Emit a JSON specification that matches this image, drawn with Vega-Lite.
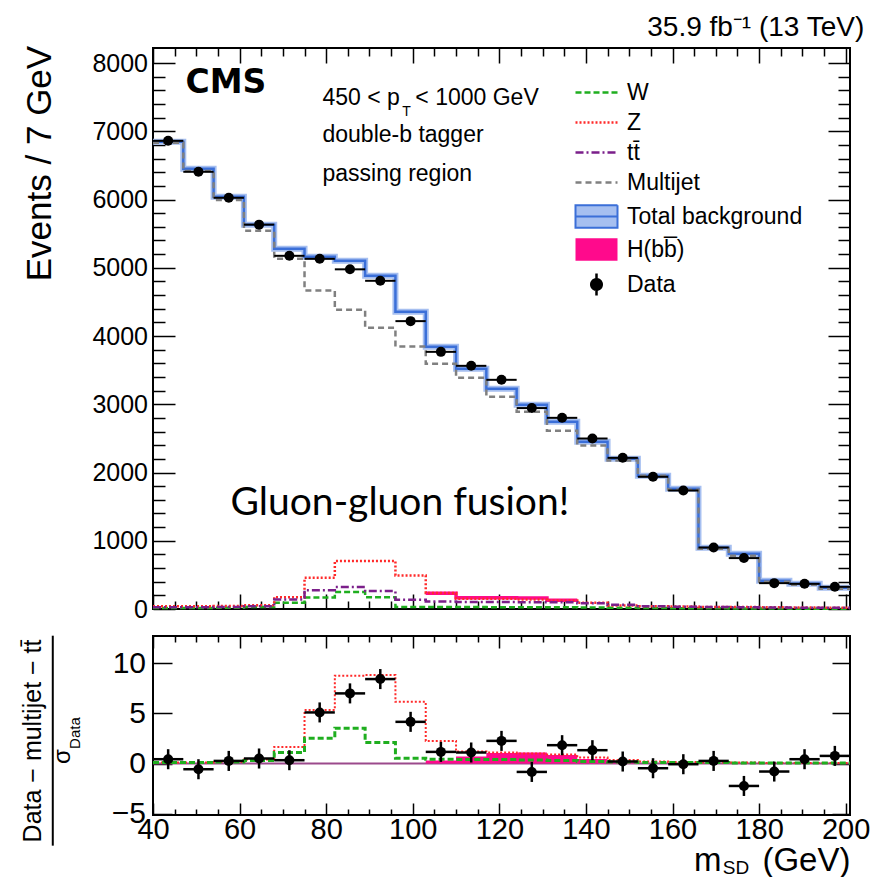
{
  "$schema": "https://vega.github.io/schema/vega-lite/v6.json",
  "background": "white",
  "padding": {"left": 20, "top": 12, "right": 5, "bottom": 6},
  "spacing": 27,
  "bounds": "flush",
  "config": {
    "view": {"stroke": "black", "strokeWidth": 2},
    "font": "Liberation Sans",
    "axis": {"domain": false, "grid": false, "tickColor": "black", "tickWidth": 1.5, "labelColor": "black", "labelFont": "Liberation Sans", "labelOverlap": false, "labelFlush": false, "labelBound": false}
  },
  "datasets": {
    "bins": [
      {"lo":40,"hi":47,"m":43.5,"d":6860,"tot":6845,"Multijet":6830,"W":15,"Z":42,"tt̄":25,"H":null,"r":0.43,"rlo":-0.57,"rhi":1.43,"rW":0.1,"rZ":0.1,"rH":0},
      {"lo":47,"hi":54,"m":50.5,"d":6406,"tot":6450,"Multijet":6418,"W":15,"Z":42,"tt̄":25,"H":null,"r":-0.57,"rlo":-1.57,"rhi":0.43,"rW":0.1,"rZ":0.1,"rH":0},
      {"lo":54,"hi":61,"m":57.5,"d":6025,"tot":6040,"Multijet":5993,"W":18,"Z":44,"tt̄":28,"H":null,"r":0.26,"rlo":-0.74,"rhi":1.26,"rW":0.15,"rZ":0.15,"rH":0},
      {"lo":61,"hi":68,"m":64.5,"d":5632,"tot":5629,"Multijet":5543,"W":28,"Z":55,"tt̄":42,"H":null,"r":0.5,"rlo":-0.5,"rhi":1.5,"rW":0.3,"rZ":0.4,"rH":0},
      {"lo":68,"hi":75,"m":71.5,"d":5175,"tot":5278,"Multijet":5131,"W":90,"Z":174,"tt̄":139,"H":null,"r":0.33,"rlo":-0.67,"rhi":1.33,"rW":1.1,"rZ":1.66,"rH":0},
      {"lo":75,"hi":82,"m":78.5,"d":5131,"tot":5161,"Multijet":4667,"W":170,"Z":457,"tt̄":276,"H":null,"r":5.1,"rlo":4.1,"rhi":6.1,"rW":2.53,"rZ":5.33,"rH":0},
      {"lo":82,"hi":89,"m":85.5,"d":4977,"tot":5102,"Multijet":4384,"W":248,"Z":702,"tt̄":321,"H":null,"r":7.0,"rlo":6.0,"rhi":8.0,"rW":3.53,"rZ":8.76,"rH":0},
      {"lo":89,"hi":96,"m":92.5,"d":4809,"tot":4882,"Multijet":4120,"W":174,"Z":702,"tt̄":262,"H":null,"r":8.43,"rlo":7.43,"rhi":9.43,"rW":2.1,"rZ":8.83,"rH":0},
      {"lo":96,"hi":103,"m":99.5,"d":4218,"tot":4355,"Multijet":3846,"W":30,"Z":491,"tt̄":135,"H":null,"r":4.16,"rlo":3.16,"rhi":5.16,"rW":0.53,"rZ":6.16,"rH":0},
      {"lo":103,"hi":110,"m":106.5,"d":3768,"tot":3842,"Multijet":3593,"W":28,"Z":233,"tt̄":110,"H":230,"r":1.16,"rlo":0.16,"rhi":2.16,"rW":0.43,"rZ":2.26,"rH":0.3},
      {"lo":110,"hi":117,"m":113.5,"d":3563,"tot":3520,"Multijet":3388,"W":28,"Z":150,"tt̄":101,"H":165,"r":1.1,"rlo":0.1,"rhi":2.1,"rW":0.4,"rZ":1.2,"rH":0.7},
      {"lo":117,"hi":124,"m":120.5,"d":3358,"tot":3227,"Multijet":3110,"W":27,"Z":150,"tt̄":101,"H":165,"r":2.26,"rlo":1.26,"rhi":3.26,"rW":0.4,"rZ":1.1,"rH":1.05},
      {"lo":124,"hi":131,"m":127.5,"d":2944,"tot":2992,"Multijet":2889,"W":26,"Z":140,"tt̄":100,"H":160,"r":-0.84,"rlo":-1.84,"rhi":0.16,"rW":0.35,"rZ":1.0,"rH":1.1},
      {"lo":131,"hi":138,"m":134.5,"d":2801,"tot":2743,"Multijet":2610,"W":25,"Z":125,"tt̄":98,"H":128,"r":1.83,"rlo":0.83,"rhi":2.83,"rW":0.3,"rZ":0.9,"rH":0.85},
      {"lo":138,"hi":145,"m":141.5,"d":2498,"tot":2450,"Multijet":2395,"W":22,"Z":91,"tt̄":86,"H":null,"r":1.33,"rlo":0.33,"rhi":2.33,"rW":0.2,"rZ":0.6,"rH":0.45},
      {"lo":145,"hi":152,"m":148.5,"d":2215,"tot":2201,"Multijet":2175,"W":20,"Z":51,"tt̄":62,"H":null,"r":0.2,"rlo":-0.8,"rhi":1.2,"rW":0.15,"rZ":0.35,"rH":0.1},
      {"lo":152,"hi":159,"m":155.5,"d":1937,"tot":1952,"Multijet":1952,"W":15,"Z":40,"tt̄":40,"H":null,"r":-0.47,"rlo":-1.47,"rhi":0.53,"rW":0.1,"rZ":0.2,"rH":0},
      {"lo":159,"hi":166,"m":162.5,"d":1736,"tot":1761,"Multijet":1747,"W":12,"Z":35,"tt̄":32,"H":null,"r":-0.07,"rlo":-1.07,"rhi":0.93,"rW":0.1,"rZ":0.15,"rH":0},
      {"lo":166,"hi":173,"m":169.5,"d":901,"tot":897,"Multijet":882,"W":10,"Z":30,"tt̄":28,"H":null,"r":0.26,"rlo":-0.74,"rhi":1.26,"rW":0.1,"rZ":0.1,"rH":0},
      {"lo":173,"hi":180,"m":176.5,"d":746,"tot":809,"Multijet":779,"W":8,"Z":28,"tt̄":25,"H":null,"r":-2.24,"rlo":-3.24,"rhi":-1.24,"rW":0.05,"rZ":0.1,"rH":0},
      {"lo":180,"hi":187,"m":183.5,"d":379,"tot":413,"Multijet":398,"W":6,"Z":25,"tt̄":22,"H":null,"r":-0.8,"rlo":-1.8,"rhi":0.2,"rW":0.05,"rZ":0.05,"rH":0},
      {"lo":187,"hi":194,"m":190.5,"d":369,"tot":369,"Multijet":354,"W":5,"Z":22,"tt̄":20,"H":null,"r":0.43,"rlo":-0.57,"rhi":1.43,"rW":0.05,"rZ":0.05,"rH":0},
      {"lo":194,"hi":201,"m":197.5,"d":325,"tot":311,"Multijet":296,"W":5,"Z":20,"tt̄":18,"H":null,"r":0.76,"rlo":-0.24,"rhi":1.76,"rW":0.05,"rZ":0.05,"rH":0}
    ]
  },
  "vconcat": [
    {
      "width": 697,
      "height": 561,
      "resolve": {"axis": {"x": "independent", "y": "independent"}},
      "layer": [
        {
          "data": {"name": "bins"},
          "transform": [{"filter": "datum.H != null"}, {"fold": ["lo", "hi"], "as": ["edge", "x"]}],
          "mark": {"type": "line", "color": "#ff0a8c", "strokeWidth": 3.5},
          "encoding": {
            "x": {"field": "x", "type": "quantitative", "scale": {"domain": [40, 201], "nice": false, "zero": false},
                  "axis": {"orient": "bottom", "title": null, "labels": false, "tickSize": -8, "values": [45,50,55,65,70,75,85,90,95,105,110,115,125,130,135,145,150,155,165,170,175,185,190,195]}},
            "y": {"field": "H", "type": "quantitative", "scale": {"domain": [0, 8220], "nice": false, "zero": false},
                  "axis": {"orient": "left", "title": null, "labels": false, "tickSize": -12, "values": [200,400,600,800,1200,1400,1600,1800,2200,2400,2600,2800,3200,3400,3600,3800,4200,4400,4600,4800,5200,5400,5600,5800,6200,6400,6600,6800,7200,7400,7600,7800]}},
            "order": [{"field": "lo", "type": "quantitative"}, {"field": "x", "type": "quantitative"}]
          }
        },
        {
          "data": {"name": "bins"},
          "transform": [{"fold": ["lo", "hi"], "as": ["edge", "x"]}],
          "mark": {"type": "line", "color": "#a6bff0", "strokeWidth": 6},
          "encoding": {
            "x": {"field": "x", "type": "quantitative", "axis": null},
            "y": {"field": "tot", "type": "quantitative", "axis": null},
            "order": [{"field": "lo", "type": "quantitative"}, {"field": "x", "type": "quantitative"}]
          }
        },
        {
          "data": {"name": "bins"},
          "transform": [{"fold": ["lo", "hi"], "as": ["edge", "x"]}],
          "mark": {"type": "line", "color": "#3b6fd8", "strokeWidth": 2.5},
          "encoding": {
            "x": {"field": "x", "type": "quantitative", "axis": null},
            "y": {"field": "tot", "type": "quantitative", "axis": null},
            "order": [{"field": "lo", "type": "quantitative"}, {"field": "x", "type": "quantitative"}]
          }
        },
        {
          "data": {"name": "bins"},
          "transform": [{"fold": ["W", "Z", "tt̄", "Multijet"], "as": ["key", "val"]}, {"fold": ["lo", "hi"], "as": ["edge", "x"]}],
          "mark": {"type": "line", "strokeWidth": 2.5},
          "encoding": {
            "x": {"field": "x", "type": "quantitative",
                  "axis": {"orient": "bottom", "title": null, "labels": false, "tickSize": -15, "values": [40,60,80,100,120,140,160,180,200]}},
            "y": {"field": "val", "type": "quantitative",
                  "axis": {"orient": "left", "title": null, "format": "d", "tickSize": -22, "labelPadding": 27.5, "labelFontSize": 25, "values": [0,1000,2000,3000,4000,5000,6000,7000,8000]}},
            "color": {"field": "key", "type": "nominal",
                      "scale": {"domain": ["W", "Z", "tt̄", "Multijet", "Total background", "H(bb̅)", "Data"],
                                "range": ["#1fae1f", "#ff2a2a", "#7b1f8a", "#808080", "#3b6fd8", "#ff0a8c", "#000000"]},
                      "legend": {
                        "orient": "none", "legendX": 432, "legendY": 33, "title": null, "padding": 0,
                        "labelFont": "Liberation Sans", "labelFontSize": 23, "labelColor": "black", "labelLimit": 400, "labelOffset": 19,
                        "symbolSize": 900, "rowPadding": 6, "symbolType": "M-1.4,0H1.4",
                        "encode": {"symbols": {"update": {
                          "shape": {"signal": "datum.value === 'Total background' ? 'M-1.4,-0.75H1.4V0.75H-1.4ZM-1.4,0H1.4' : datum.value === 'H(bb̅)' ? 'M-1.4,-0.75H1.4V0.75H-1.4Z' : datum.value === 'Data' ? 'M0,-0.73V0.73M-0.35,0A0.35,0.35,0,1,0,0.35,0A0.35,0.35,0,1,0,-0.35,0Z' : 'M-1.4,0H1.4'"},
                          "fill": {"signal": "datum.value === 'Total background' ? '#a6bff0' : datum.value === 'H(bb̅)' ? '#ff0a8c' : datum.value === 'Data' ? '#000000' : 'transparent'"},
                          "stroke": {"signal": "datum.value === 'W' ? '#1fae1f' : datum.value === 'Z' ? '#ff2a2a' : datum.value === 'tt̄' ? '#7b1f8a' : datum.value === 'Multijet' ? '#808080' : datum.value === 'Total background' ? '#3b6fd8' : datum.value === 'H(bb̅)' ? '#ff0a8c' : '#000000'"},
                          "strokeDash": {"signal": "datum.value === 'W' ? [6,3] : datum.value === 'Z' ? [2,2] : datum.value === 'tt̄' ? [8,3,2,3] : datum.value === 'Multijet' ? [6,4] : [1,0]"},
                          "strokeWidth": {"signal": "datum.value === 'Total background' ? 2 : datum.value === 'H(bb̅)' ? 0 : 2.5"},
                          "opacity": {"value": 1}
                        }}}
                      }},
            "strokeDash": {"field": "key", "type": "nominal", "legend": null,
                           "scale": {"domain": ["W", "Z", "tt̄", "Multijet"], "range": [[6,3],[2,2],[8,3,2,3],[6,4]]}},
            "order": [{"field": "lo", "type": "quantitative"}, {"field": "x", "type": "quantitative"}]
          }
        },
        {
          "data": {"name": "bins"},
          "mark": {"type": "rule", "color": "black", "strokeWidth": 2},
          "encoding": {
            "x": {"field": "lo", "type": "quantitative",
                  "axis": {"orient": "top", "title": null, "labels": false, "tickSize": -8, "values": [45,50,55,65,70,75,85,90,95,105,110,115,125,130,135,145,150,155,165,170,175,185,190,195]}},
            "x2": {"field": "hi"},
            "y": {"field": "d", "type": "quantitative",
                  "axis": {"orient": "right", "title": null, "labels": false, "tickSize": -12, "values": [200,400,600,800,1200,1400,1600,1800,2200,2400,2600,2800,3200,3400,3600,3800,4200,4400,4600,4800,5200,5400,5600,5800,6200,6400,6600,6800,7200,7400,7600,7800]}}
          }
        },
        {
          "data": {"name": "bins"},
          "mark": {"type": "point", "filled": true, "color": "black", "size": 100, "opacity": 1},
          "encoding": {
            "x": {"field": "m", "type": "quantitative",
                  "axis": {"orient": "top", "title": null, "labels": false, "tickSize": -15, "values": [40,60,80,100,120,140,160,180,200]}},
            "y": {"field": "d", "type": "quantitative",
                  "axis": {"orient": "right", "title": null, "labels": false, "tickSize": -22, "values": [0,1000,2000,3000,4000,5000,6000,7000,8000]}}
          }
        },
        {
          "data": {"values": [{}]},
          "mark": {"type": "text", "text": "35.9 fb⁻¹ (13 TeV)", "font": "Liberation Sans", "fontSize": 28, "align": "right", "baseline": "middle", "color": "black"},
          "encoding": {"x": {"datum": 204.3, "axis": null}, "y": {"datum": 8516, "axis": null}}
        },
        {
          "data": {"values": [{}]},
          "mark": {"type": "text", "text": "CMS", "font": "DejaVu Sans", "fontWeight": "bold", "fontSize": 33, "align": "left", "baseline": "middle", "color": "black"},
          "encoding": {"x": {"datum": 47.5, "axis": null}, "y": {"datum": 7703, "axis": null}}
        },
        {
          "data": {"values": [{}]},
          "mark": {"type": "text", "text": "450 < p", "font": "Liberation Sans", "fontSize": 23, "align": "left", "baseline": "middle", "color": "black"},
          "encoding": {"x": {"datum": 79.15, "axis": null}, "y": {"datum": 7483, "axis": null}}
        },
        {
          "data": {"values": [{}]},
          "mark": {"type": "text", "text": "T", "font": "Liberation Sans", "fontSize": 14, "align": "left", "baseline": "middle", "color": "black"},
          "encoding": {"x": {"datum": 97.6, "axis": null}, "y": {"datum": 7285, "axis": null}}
        },
        {
          "data": {"values": [{}]},
          "mark": {"type": "text", "text": "< 1000 GeV", "font": "Liberation Sans", "fontSize": 23, "align": "left", "baseline": "middle", "color": "black"},
          "encoding": {"x": {"datum": 100.6, "axis": null}, "y": {"datum": 7483, "axis": null}}
        },
        {
          "data": {"values": [{}]},
          "mark": {"type": "text", "text": "double-b tagger", "font": "Liberation Sans", "fontSize": 23, "align": "left", "baseline": "middle", "color": "black"},
          "encoding": {"x": {"datum": 79.15, "axis": null}, "y": {"datum": 6948, "axis": null}}
        },
        {
          "data": {"values": [{}]},
          "mark": {"type": "text", "text": "passing region", "font": "Liberation Sans", "fontSize": 23, "align": "left", "baseline": "middle", "color": "black"},
          "encoding": {"x": {"datum": 79.15, "axis": null}, "y": {"datum": 6376, "axis": null}}
        },
        {
          "data": {"values": [{}]},
          "mark": {"type": "text", "text": "Gluon-gluon fusion!", "font": "Lato", "fontSize": 39, "align": "left", "baseline": "middle", "color": "black"},
          "encoding": {"x": {"datum": 57.9, "axis": null}, "y": {"datum": 1556, "axis": null}}
        },
        {
          "data": {"values": [{}]},
          "mark": {"type": "text", "text": "Events / 7 GeV", "font": "Liberation Sans", "fontSize": 35, "angle": 270, "align": "right", "baseline": "middle", "color": "black"},
          "encoding": {"x": {"datum": 13.8, "axis": null}, "y": {"datum": 8252, "axis": null}}
        }
      ]
    },
    {
      "width": 697,
      "height": 179,
      "resolve": {"axis": {"x": "independent", "y": "independent"}},
      "layer": [
        {
          "data": {"values": [{}]},
          "mark": {"type": "rule", "color": "#9b4a8c", "strokeWidth": 2},
          "encoding": {"y": {"datum": 0, "axis": null, "scale": {"domain": [-5.14, 12.73], "nice": false, "zero": false}}}
        },
        {
          "data": {"name": "bins"},
          "transform": [{"filter": "datum.rH > 0"}, {"fold": ["lo", "hi"], "as": ["edge", "x"]}],
          "mark": {"type": "area", "color": "#ff0a8c", "opacity": 1},
          "encoding": {
            "x": {"field": "x", "type": "quantitative", "axis": null, "scale": {"domain": [40, 201], "nice": false, "zero": false}},
            "y": {"field": "rH", "type": "quantitative", "axis": null},
            "y2": {"datum": 0},
            "order": [{"field": "lo", "type": "quantitative"}, {"field": "x", "type": "quantitative"}]
          }
        },
        {
          "data": {"name": "bins"},
          "transform": [{"fold": ["lo", "hi"], "as": ["edge", "x"]}],
          "mark": {"type": "line", "color": "#ff2a2a", "strokeWidth": 2, "strokeDash": [2, 2]},
          "encoding": {
            "x": {"field": "x", "type": "quantitative",
                  "axis": {"orient": "bottom", "title": null, "labels": false, "tickSize": -6, "values": [45,50,55,65,70,75,85,90,95,105,110,115,125,130,135,145,150,155,165,170,175,185,190,195]}},
            "y": {"field": "rZ", "type": "quantitative", "axis": null},
            "order": [{"field": "lo", "type": "quantitative"}, {"field": "x", "type": "quantitative"}]
          }
        },
        {
          "data": {"name": "bins"},
          "transform": [{"fold": ["lo", "hi"], "as": ["edge", "x"]}],
          "mark": {"type": "line", "color": "#1fae1f", "strokeWidth": 3, "strokeDash": [6, 3]},
          "encoding": {
            "x": {"field": "x", "type": "quantitative",
                  "axis": {"orient": "top", "title": null, "labels": false, "tickSize": -6, "values": [45,50,55,65,70,75,85,90,95,105,110,115,125,130,135,145,150,155,165,170,175,185,190,195]}},
            "y": {"field": "rW", "type": "quantitative", "axis": null},
            "order": [{"field": "lo", "type": "quantitative"}, {"field": "x", "type": "quantitative"}]
          }
        },
        {
          "data": {"name": "bins"},
          "mark": {"type": "rule", "color": "black", "strokeWidth": 2.5},
          "encoding": {
            "x": {"field": "lo", "type": "quantitative",
                  "axis": {"orient": "top", "title": null, "labels": false, "tickSize": -12, "values": [40,60,80,100,120,140,160,180,200]}},
            "x2": {"field": "hi"},
            "y": {"field": "r", "type": "quantitative",
                  "axis": {"orient": "right", "title": null, "labels": false, "tickSize": -18, "values": [-5,0,5,10]}}
          }
        },
        {
          "data": {"name": "bins"},
          "mark": {"type": "rule", "color": "black", "strokeWidth": 2.5},
          "encoding": {
            "x": {"field": "m", "type": "quantitative", "axis": null},
            "y": {"field": "rlo", "type": "quantitative", "axis": null},
            "y2": {"field": "rhi"}
          }
        },
        {
          "data": {"name": "bins"},
          "mark": {"type": "point", "filled": true, "color": "black", "size": 100, "opacity": 1},
          "encoding": {
            "x": {"field": "m", "type": "quantitative",
                  "axis": {"orient": "bottom", "title": null, "tickSize": -12, "labelPadding": 12, "labelFontSize": 29, "values": [40,60,80,100,120,140,160,180,200]}},
            "y": {"field": "r", "type": "quantitative",
                  "axis": {"orient": "left", "title": null, "tickSize": -19, "labelPadding": 26.5, "labelFontSize": 30, "values": [-5,0,5,10]}}
          }
        },
        {
          "data": {"values": [{}]},
          "mark": {"type": "text", "text": "(GeV)", "font": "Liberation Sans", "fontSize": 33, "align": "right", "baseline": "alphabetic", "color": "black"},
          "encoding": {"x": {"datum": 201.1, "axis": null}, "y": {"datum": -10.73, "axis": null}}
        },
        {
          "data": {"values": [{}]},
          "mark": {"type": "text", "text": "m", "font": "Liberation Sans", "fontSize": 33, "align": "right", "baseline": "alphabetic", "color": "black"},
          "encoding": {"x": {"datum": 171.3, "axis": null}, "y": {"datum": -10.73, "axis": null}}
        },
        {
          "data": {"values": [{}]},
          "mark": {"type": "text", "text": "SD", "font": "Liberation Sans", "fontSize": 19, "align": "left", "baseline": "alphabetic", "color": "black"},
          "encoding": {"x": {"datum": 171.6, "axis": null}, "y": {"datum": -11.0, "axis": null}}
        },
        {
          "data": {"values": [{}]},
          "mark": {"type": "text", "text": "Data − multijet − tt̄", "font": "Liberation Sans", "fontSize": 25, "angle": 270, "align": "center", "baseline": "middle", "color": "black"},
          "encoding": {"x": {"datum": 12.3, "axis": null}, "y": {"datum": 2.25, "axis": null}}
        },
        {
          "data": {"values": [{}]},
          "mark": {"type": "rule", "color": "black", "strokeWidth": 2},
          "encoding": {"x": {"datum": 16.85, "axis": null}, "y": {"datum": 12.76, "axis": null}, "y2": {"datum": -8.2}}
        },
        {
          "data": {"values": [{}]},
          "mark": {"type": "text", "text": "σ", "font": "Liberation Sans", "fontSize": 24, "angle": 270, "align": "center", "baseline": "middle", "color": "black"},
          "encoding": {"x": {"datum": 19.1, "axis": null}, "y": {"datum": 0.7, "axis": null}}
        },
        {
          "data": {"values": [{}]},
          "mark": {"type": "text", "text": "Data", "font": "Liberation Sans", "fontSize": 15, "angle": 270, "align": "center", "baseline": "middle", "color": "black"},
          "encoding": {"x": {"datum": 21.9, "axis": null}, "y": {"datum": 3.04, "axis": null}}
        }
      ]
    }
  ]
}
